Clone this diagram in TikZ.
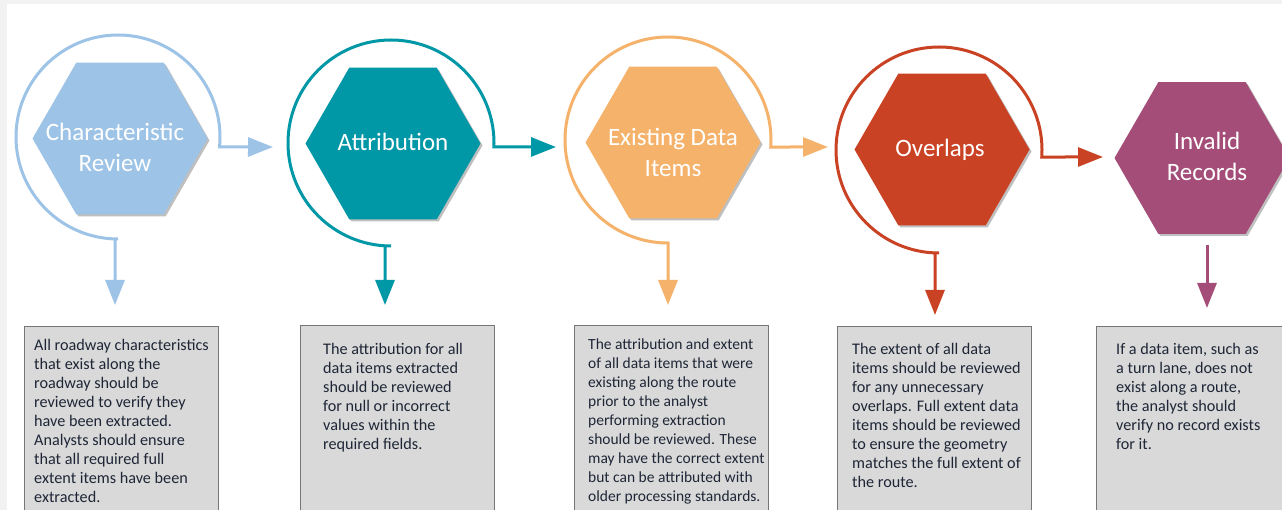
\documentclass[tikz,border=0pt]{standalone}
\usepackage{fontspec}
\setmainfont{Carlito}
\usetikzlibrary{shapes.geometric,arrows.meta,positioning,shadows}

\definecolor{crblue}{HTML}{9DC3E6}
\definecolor{crteal}{HTML}{0097A7}
\definecolor{crorange}{HTML}{F5B26B}
\definecolor{crred}{HTML}{CA4224}
\definecolor{crpurple}{HTML}{A34D78}
\definecolor{boxgray}{HTML}{D9D9D9}
\definecolor{boxline}{HTML}{767676}
\definecolor{descink}{HTML}{1E2636}

\tikzset{
  hexstep/.style={regular polygon, regular polygon sides=6, minimum size=175pt, inner sep=0pt,
    fill=#1, drop shadow={shadow xshift=2pt, shadow yshift=-2pt, opacity=0.25, fill=black}},
  hexlabel/.style={text=white, font=\fontsize{25}{31}\selectfont, align=center, inner sep=0pt},
  flowline/.style={draw=#1, line width=3pt, arrows={-Triangle[length=25pt,width=19pt]}},
  descbox/.style={draw=boxline, fill=boxgray, line width=1.2pt, minimum width=194pt,
    minimum height=200pt, anchor=north west, inner sep=0pt},
  desctext/.style={text=descink, font=\fontsize{16.2}{19}\selectfont, align=left, inner sep=0pt}
}

\begin{document}
\begin{tikzpicture}[x=1pt,y=1pt]
\useasboundingbox (0,0) rectangle (1282,-510);
\fill[black!5] (0,0) rectangle (1282,-510);
\fill[white] (7,-4) rectangle (1282,-510);

% steps
\node[hexstep=crblue] (h1) at (120,-138.5) {};
\node[hexstep=crteal] (h2) at (393,-143.5) {};
\node[hexstep=crorange] (h3) at (673,-142.5) {};
\node[hexstep=crred] (h4) at (942,-149.5) {};
\node[hexstep=crpurple] (h5) at (1202,-158) {};
\node[hexlabel] (h1t) at (115,-147) {Characteristic\\Review};
\node[hexlabel] (h2t) at (393,-142) {Attribution};
\node[hexlabel] (h3t) at (673,-152) {Existing Data\\Items};
\node[hexlabel] (h4t) at (940,-150) {Overlaps};
\node[hexlabel] (h5t) at (1207,-156.5) {Invalid\\Records};

% description boxes
\node[descbox] (d1) at (24,-326) {};
\node[descbox] (d2) at (300,-325) {};
\node[descbox] (d3) at (574,-325) {};
\node[descbox] (d4) at (837,-326) {};
\node[descbox] (d5) at (1096,-326) {};
\node[desctext, below right=13pt and 10pt of d1.north west] (d1t) {All roadway characteristics\\that exist along the\\roadway should be\\reviewed to verify they\\have been extracted.\\Analysts should ensure\\that all required full\\extent items have been\\extracted.};
\node[desctext, below right=18pt and 23pt of d2.north west] (d2t) {The attribution for all\\data items extracted\\should be reviewed\\for null or incorrect\\values within the\\required fields.};
\node[desctext, font=\fontsize{15.5}{19}\selectfont, below right=14pt and 14pt of d3.north west] (d3t) {The attribution and extent\\of all data items that were\\existing along the route\\prior to the analyst\\performing extraction\\should be reviewed. These\\may have the correct extent\\but can be attributed with\\older processing standards.};
\node[desctext, below right=17pt and 15pt of d4.north west] (d4t) {The extent of all data\\items should be reviewed\\for any unnecessary\\overlaps. Full extent data\\items should be reviewed\\to ensure the geometry\\matches the full extent of\\the route.};
\node[desctext, below right=17pt and 20pt of d5.north west] (d5t) {If a data item, such as\\a turn lane, does not\\exist along a route,\\the analyst should\\verify no record exists\\for it.};

% arrow ends
\coordinate (a1r) at (273,-147);
\coordinate (a1d) at (115,-305);
\coordinate (a2r) at (556,-147);
\coordinate (a2d) at (385,-305);
\coordinate (a3r) at (828,-147);
\coordinate (a3d) at (668,-305);
\coordinate (a4r) at (1103,-157);
\coordinate (a4d) at (935,-315);
\coordinate (a5d) at (1207,-308);

% loops round the steps
\draw[flowline=crblue, arrows={Triangle[length=25pt,width=19pt]-Triangle[length=25pt,width=19pt]}]
  (a1d) -- (115,-239) -- (118,-239) arc[start angle=270, end angle=-5.6, radius=102] -- (a1r);
\draw[flowline=crteal, arrows={Triangle[length=25pt,width=19pt]-Triangle[length=25pt,width=19pt]}]
  (a2d) -- (385,-246) -- (391,-246) arc[start angle=270, end angle=-2.2, radius=103] -- (a2r);
\draw[flowline=crorange, arrows={Triangle[length=25pt,width=19pt]-Triangle[length=25pt,width=19pt]}]
  (a3d) -- (668,-243) arc[start angle=270, end angle=-3.9, radius=103] -- (a3r);
\draw[flowline=crred, arrows={Triangle[length=25pt,width=19pt]-Triangle[length=25pt,width=19pt]}]
  (a4d) -- (935,-253) -- (939,-253) arc[start angle=270, end angle=-3.9, radius=103] -- (a4r);
\draw[flowline=crpurple] (h5.south -| a5d) ++(0,-11) -- (a5d);
\end{tikzpicture}
\end{document}
